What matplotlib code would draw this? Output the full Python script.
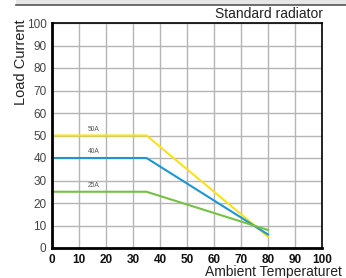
import matplotlib
matplotlib.use("Agg")
import matplotlib.pyplot as plt
from matplotlib.lines import Line2D
from matplotlib.patches import Rectangle

plt.rcParams['font.family'] = ['Liberation Sans', 'DejaVu Sans']

temps = [0, 35, 80]
series_50A = [50, 50, 5]
series_40A = [40, 40, 6]
series_25A = [25, 25, 8]
series_labels = ["50A", "40A", "25A"]
colors = ["#f7e21b", "#1e96d4", "#76c143"]
x_ticks = [0, 10, 20, 30, 40, 50, 60, 70, 80, 90, 100]
y_ticks = [0, 10, 20, 30, 40, 50, 60, 70, 80, 90, 100]

W, H = 346, 278
fig = plt.figure(figsize=(W / 100, H / 100), dpi=100)
ax = fig.add_axes([52 / W, 1 - 248 / H, 270 / W, 225 / H])

# top header band
fig.patches.append(Rectangle((16 / W, 1 - 4.5 / H), 1, 4.5 / H, transform=fig.transFigure,
                             facecolor="#e6e6e6", edgecolor="none"))
fig.lines.append(Line2D([16 / W, 1], [1 - 5 / H, 1 - 5 / H], transform=fig.transFigure,
                        color="#555555", lw=1.2))

ax.set_xlim(0, 100)
ax.set_ylim(0, 100)
ax.set_xticks(x_ticks)
ax.set_yticks(y_ticks)
ax.grid(True, color="#b5b5b5", lw=1.0)
ax.set_axisbelow(True)
ax.tick_params(axis="y", length=0, labelsize=8.5, colors="#444444", pad=4)
ax.tick_params(axis="x", length=0, labelsize=8.5, colors="#111111", pad=4)
for lab in ax.get_xticklabels():
    lab.set_fontweight("bold")
for s in ["top", "right"]:
    ax.spines[s].set_linewidth(1.2)
for s in ["left", "bottom"]:
    ax.spines[s].set_linewidth(2)

for vals, c, lab in zip([series_50A, series_40A, series_25A], colors, series_labels):
    ax.plot(temps, vals, color=c, lw=1.5, clip_on=False)
    ax.text(15.5, vals[0] + 1.2, lab, fontsize=4.8, color="#555555", ha="center", va="bottom")

fig.text(323 / W, 1 - 14 / H, "Standard radiator", fontsize=10, ha="right", va="center",
         color="#222222")
fig.text(21 / W, 1 - 62 / H, "Load Current", fontsize=10.5, rotation=90, ha="center", va="center",
         color="#222222")
fig.text(342 / W, 1 - 272 / H, "Ambient Temperaturet", fontsize=10, ha="right", va="center",
         color="#222222")

fig.savefig("out.png", dpi=100)
